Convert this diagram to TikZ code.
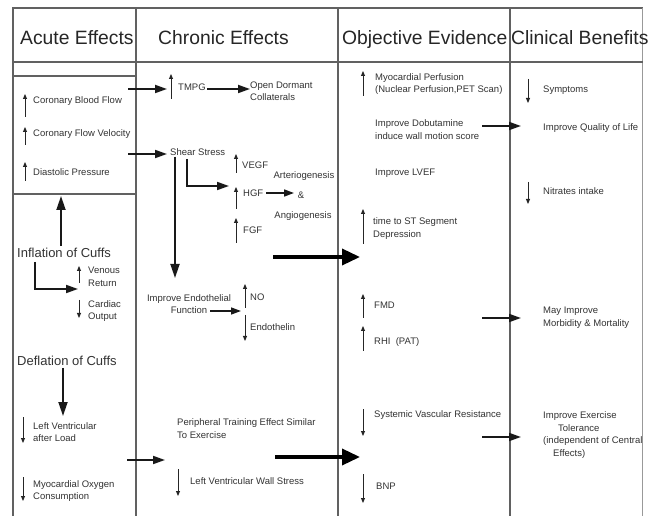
\documentclass[tikz,border=0pt]{standalone}
\usepackage{fontspec}
\setmainfont{Liberation Sans}
\usetikzlibrary{arrows.meta}
\begin{document}
\begin{tikzpicture}[x=1pt,y=-1pt,
  frame/.style={draw=black!62, line width=1.4pt},
  txt/.style={anchor=west, inner sep=0pt, align=left, font=\fontsize{9.5}{12.5}\selectfont, text=black!80},
  ctxt/.style={inner sep=0pt, align=center, font=\fontsize{9.5}{12.5}\selectfont, text=black!80},
  hdr/.style={anchor=base west, inner sep=0pt, font=\fontsize{19.3}{22}\selectfont, text=black!85},
  mid/.style={anchor=west, inner sep=0pt, font=\fontsize{13}{15}\selectfont, text=black!80},
  ind/.style={draw=black!85, line width=0.9pt, -{Triangle[length=5pt,width=4pt]}},
  conn/.style={draw=black!90, line width=1.8pt, -{Triangle[length=12pt,width=8pt]}},
  bigarr/.style={draw=black, line width=3.5pt, -{Triangle[length=18pt,width=16pt]}},
  bigv/.style={draw=black!90, line width=1.8pt, -{Triangle[length=14pt,width=9pt]}},
]
\useasboundingbox[fill=white] (0,0) rectangle (649,516);

% frame
\draw[frame] (13,516) -- (13,8) -- (643,8);
\draw[draw=black!40, line width=0.8pt] (642,8) -- (642,516);
\draw[frame] (13,62) -- (643,62);
\draw[frame] (136,8) -- (136,516);
\draw[frame] (338,8) -- (338,516);
\draw[frame] (510,8) -- (510,516);
\draw[frame] (13,76) -- (136,76);
\draw[frame] (13,194) -- (136,194);

% headers
\node[hdr] (h1) at (20,45) {Acute Effects};
\node[hdr] (h2) at (158,45) {Chronic Effects};
\node[hdr] (h3) at (342,45) {Objective Evidence};
\node[hdr] (h4) at (511,45) {Clinical Benefits};

% ---------------- Acute column
\node[txt] (cbf) at (33,101) {Coronary Blood Flow};
\draw[ind] (25,117) -- (25,94);
\node[txt] (cfv) at (33,134) {Coronary Flow Velocity};
\draw[ind] (25,145) -- (25,127);
\node[txt] (dp) at (33,172) {Diastolic Pressure};
\draw[ind] (25,181) -- (25,162);

\node[mid] (infl) at (17,253) {Inflation of Cuffs};
\coordinate (boxb) at (61,196);
\draw[bigv] (infl.north -| boxb) ++(0,-2) -- (boxb);
\coordinate (elb1) at (35,262);
\coordinate (elb2) at (78,289);
\draw[conn] (elb1) |- (elb2);
\node[txt] (ven) at (88,277) {Venous\\Return};
\draw[ind] (79,283) -- (79,266);
\node[txt] (card) at (88,311) {Cardiac\\Output};
\draw[ind] (79,300) -- (79,318);

\node[mid] (defl) at (17,361) {Deflation of Cuffs};
\coordinate (dfe) at (63,416);
\draw[bigv] (defl.south -| dfe) ++(0,2) -- (dfe);
\node[txt] (lvl) at (33,432) {Left Ventricular\\after Load};
\draw[ind] (23,417) -- (23,443);
\node[txt] (mvo) at (33,491) {Myocardial Oxygen\\Consumption};
\draw[ind] (23,477) -- (23,501);

% ---------------- Chronic column
\coordinate (c1s) at (128,89);
\coordinate (c1e) at (167,89);
\draw[conn] (c1s) -- (c1e);
\node[txt] (tmpg) at (178,87) {TMPG};
\draw[ind] (171,99) -- (171,74);
\node[txt] (odc) at (250,91) {Open Dormant\\Collaterals};
\coordinate (t1s) at (207,89);
\draw[conn] (t1s) -- (odc.west |- t1s);

\coordinate (c2s) at (128,154);
\coordinate (c2e) at (167,154);
\draw[conn] (c2s) -- (c2e);
\node[txt] (shear) at (170,152) {Shear Stress};
\coordinate (shd) at (175,278);
\draw[bigv] (shear.south -| shd) ++(0,1) -- (shd);
\coordinate (sh1) at (187,159);
\coordinate (sh2) at (229,186);
\draw[conn] (sh1) |- (sh2);

\node[txt] (vegf) at (242,165) {VEGF};
\draw[ind] (236,173) -- (236,154);
\node[txt] (hgf) at (243,193) {HGF};
\draw[ind] (236,209) -- (236,187);
\node[txt] (fgf) at (243,230) {FGF};
\draw[ind] (236,243) -- (236,218);
\node[ctxt] (art) at (304,176) {Arteriogenesis};
\node[ctxt] (amp) at (301,195) {\&};
\node[ctxt] (ang) at (303,216) {Angiogenesis};
\coordinate (hgs) at (266,193);
\coordinate (hge) at (294,193);
\draw[conn, line width=1.6pt, -{Triangle[length=10pt,width=7pt]}] (hgs) -- (hge);

\coordinate (b1s) at (273,257);
\coordinate (b1e) at (360,257);
\draw[bigarr] (b1s) -- (b1e);

\node[ctxt] (ief) at (189,304) {Improve Endothelial\\Function};
\coordinate (iefs) at (210,311);
\coordinate (iefe) at (241,311);
\draw[conn, line width=1.4pt, -{Triangle[length=10pt,width=7pt]}] (iefs) -- (iefe);
\node[txt] (no) at (250,297) {NO};
\draw[ind] (245,308) -- (245,284);
\node[txt] (endo) at (250,327) {Endothelin};
\draw[ind] (245,315) -- (245,341);

\coordinate (c3s) at (127,460);
\coordinate (c3e) at (165,460);
\draw[conn] (c3s) -- (c3e);
\node[txt] (pte) at (177,428.5) {Peripheral Training Effect Similar\\To Exercise};
\coordinate (b2s) at (275,457);
\coordinate (b2e) at (360,457);
\draw[bigarr] (b2s) -- (b2e);
\node[txt] (lvws) at (190,481) {Left Ventricular Wall Stress};
\draw[ind] (178,469) -- (178,496);

% ---------------- Objective column
\node[txt] (mp) at (375,84) {Myocardial Perfusion\\(Nuclear Perfusion,PET Scan)};
\draw[ind] (363,96) -- (363,71);
\node[txt] (dob) at (375,129.5) {Improve Dobutamine\\induce wall motion score};
\coordinate (o1s) at (482,126);
\coordinate (o1e) at (521,126);
\draw[conn] (o1s) -- (o1e);
\node[txt] (lvef) at (375,173) {Improve LVEF};
\node[txt] (st) at (373,228.5) {time to ST Segment\\Depression};
\draw[ind] (363,244) -- (363,209);
\node[txt] (fmd) at (374,305) {FMD};
\draw[ind] (363,318) -- (363,294);
\node[txt] (rhi) at (374,342) {RHI~~(PAT)};
\draw[ind] (363,351) -- (363,326);
\coordinate (o2s) at (482,318);
\coordinate (o2e) at (521,318);
\draw[conn] (o2s) -- (o2e);
\node[txt] (svr) at (374,415) {Systemic Vascular Resistance};
\draw[ind] (363,409) -- (363,436);
\coordinate (o3s) at (482,437);
\coordinate (o3e) at (521,437);
\draw[conn] (o3s) -- (o3e);
\node[txt] (bnp) at (376,486) {BNP};
\draw[ind] (363,474) -- (363,503);

% ---------------- Clinical column
\node[txt] (sym) at (543,90) {Symptoms};
\draw[ind] (528,79) -- (528,103);
\node[txt] (qol) at (543,128) {Improve Quality of Life};
\node[txt] (nit) at (543,191) {Nitrates intake};
\draw[ind] (528,182) -- (528,204);
\node[txt] (mm) at (543,317.5) {May Improve\\Morbidity \& Mortality};
\node[txt] (ext) at (543,435) {Improve Exercise\\\hspace*{15pt}Tolerance\\(independent of Central\\\hspace*{10pt}Effects)};
\end{tikzpicture}
\end{document}
